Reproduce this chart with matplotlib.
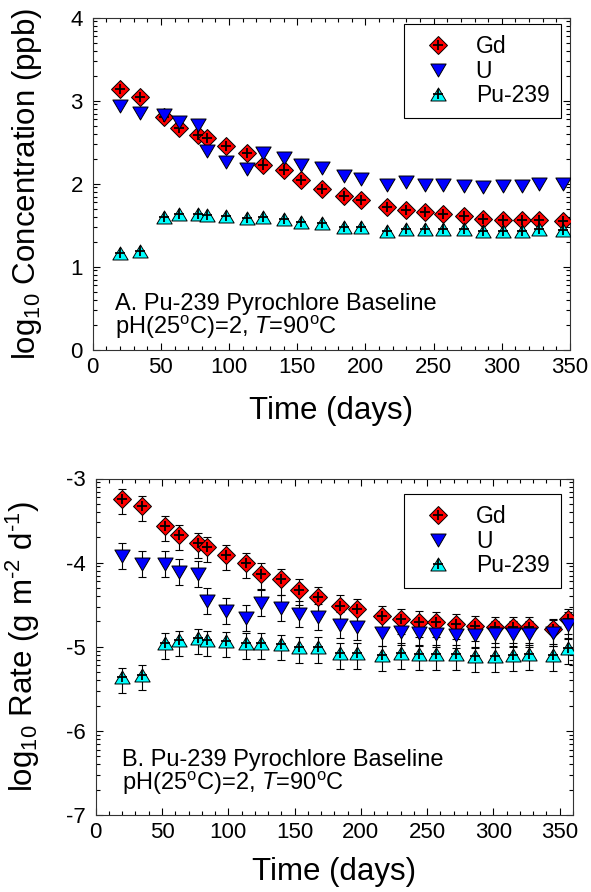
import math
import matplotlib
matplotlib.use('Agg')
import matplotlib.pyplot as plt
from matplotlib.path import Path
from matplotlib.lines import Line2D
from matplotlib.ticker import FixedLocator, MultipleLocator

plt.rcParams['font.family'] = ['Liberation Sans', 'DejaVu Sans']
plt.rcParams['mathtext.fontset'] = 'custom'
plt.rcParams['mathtext.rm'] = 'Liberation Sans'
plt.rcParams['mathtext.it'] = 'Liberation Sans:italic'
plt.rcParams['mathtext.bf'] = 'Liberation Sans:bold'
plt.rcParams['axes.unicode_minus'] = False

# ---------------- data ----------------
days = [20, 35, 52, 63, 77, 84, 98, 113, 125, 140, 153, 168, 184, 197, 216,
        230, 244, 257, 272, 286, 301, 315, 327, 345, 356]

# Panel A: log10 concentration (ppb)
conc_gd = [3.14, 3.05, 2.80, 2.67, 2.59, 2.55, 2.45, 2.37, 2.23, 2.17, 2.04, 1.94,
           1.85, 1.80, 1.72, 1.68, 1.66, 1.63, 1.61, 1.58, 1.56, 1.56, 1.56, 1.55]
conc_u = [2.94, 2.85, 2.83, 2.74, 2.71, 2.39, 2.26, 2.18, 2.37, 2.31, 2.23, 2.19,
          2.09, 2.06, 1.99, 2.02, 1.99, 1.98, 1.97, 1.96, 1.97, 1.97, 2.00, 2.00]
conc_pu = [1.17, 1.19, 1.60, 1.63, 1.64, 1.62, 1.61, 1.59, 1.60, 1.57, 1.54, 1.53,
           1.48, 1.48, 1.43, 1.46, 1.45, 1.45, 1.45, 1.43, 1.43, 1.43, 1.46, 1.44]

# Panel B: log10 rate (g m-2 d-1)
rate_gd = [-3.24, -3.33, -3.56, -3.67, -3.77, -3.81, -3.91, -4.00, -4.13, -4.20,
           -4.32, -4.41, -4.51, -4.55, -4.64, -4.67, -4.70, -4.71, -4.73, -4.75,
           -4.77, -4.77, -4.77, -4.79, -4.67]
rate_u = [-3.92, -4.02, -4.02, -4.11, -4.14, -4.46, -4.58, -4.66, -4.48, -4.54,
          -4.61, -4.65, -4.74, -4.77, -4.84, -4.82, -4.84, -4.85, -4.86, -4.86,
          -4.85, -4.85, -4.85, -4.84, -4.74]
rate_pu = [-5.36, -5.33, -4.95, -4.92, -4.90, -4.92, -4.93, -4.95, -4.95, -4.97,
           -5.00, -5.00, -5.07, -5.07, -5.10, -5.07, -5.09, -5.09, -5.09, -5.11,
           -5.11, -5.10, -5.09, -5.10, -5.02]

# error bars on rates (lower, upper), log units
err_gd = (0.18, 0.12)
err_u = (0.155, 0.155)
err_pu = (0.19, 0.11)

labels = ['Gd', 'U', 'Pu-239']

# ---------------- styling ----------------
W, H = 591, 892
fig = plt.figure(figsize=(W / 100, H / 100), dpi=100)
ax1 = fig.add_axes([92.7 / W, 1 - 349.7 / H, (570 - 92.7) / W, (349.7 - 17.7) / H])
ax2 = fig.add_axes([95.7 / W, 1 - 815 / H, (573 - 95.7) / W, (815 - 478.5) / H])

tri_down = Path([(-1, 0.85), (1, 0.85), (0, -0.85), (-1, 0.85)], closed=True)
tri_up = Path([(-1, -0.85), (1, -0.85), (0, 0.85), (-1, -0.85)], closed=True)

C_GD, C_U, C_PU = '#ff0000', '#0000ff', '#00ffff'
MS_D, MS_T, MS_P = 9, 11, 6.5
EW = 0.7


def series(ax, x, y, color, marker, ms, z, plus=True):
    ax.plot(x, y, ls='none', marker=marker, ms=ms, mfc=color, mec='black',
            mew=EW, zorder=z)
    if plus:
        ax.plot(x, y, ls='none', marker='+', ms=MS_P, color='black', mew=1.3,
                zorder=z + 0.1)


def style(ax, xmax, ymin, ymax):
    ax.set_xlim(0, xmax)
    ax.set_ylim(ymin, ymax)
    ax.xaxis.set_major_locator(MultipleLocator(50))
    ax.xaxis.set_minor_locator(MultipleLocator(10))
    ax.yaxis.set_major_locator(MultipleLocator(1))
    minors = []
    for n in range(int(ymin), int(ymax)):
        for k in range(2, 10):
            minors.append(n + math.log10(k))
    ax.yaxis.set_minor_locator(FixedLocator(minors))
    ax.tick_params(which='both', direction='in', top=True, right=True,
                   width=0.8, colors='black')
    ax.tick_params(which='major', length=5)
    ax.tick_params(which='minor', length=3)
    ax.tick_params(axis='both', labelsize=16)
    ax.tick_params(axis='x', pad=5)
    ax.tick_params(axis='y', pad=7)
    for s in ax.spines.values():
        s.set_linewidth(0.8)
        s.set_color('#333333')


def legend(ax, anchor):
    hs = [
        (Line2D([], [], ls='none', marker='D', ms=MS_D, mfc=C_GD, mec='black', mew=EW),
         Line2D([], [], ls='none', marker='+', ms=MS_P, color='black', mew=1.3)),
        Line2D([], [], ls='none', marker=tri_down, ms=MS_T, mfc=C_U, mec='black', mew=EW),
        (Line2D([], [], ls='none', marker=tri_up, ms=MS_T, mfc=C_PU, mec='black', mew=EW),
         Line2D([], [], ls='none', marker='+', ms=MS_P, color='black', mew=1.3)),
    ]
    leg = ax.legend(hs, labels, loc='upper right', bbox_to_anchor=anchor,
                    fontsize=16.5, frameon=True, fancybox=False, edgecolor='black',
                    framealpha=1, borderpad=0.5, labelspacing=0.05,
                    handlelength=2.0, handletextpad=0.65, borderaxespad=0)
    leg.get_frame().set_linewidth(0.8)
    leg.set_zorder(10)


# ---------------- panel A ----------------
n = len(conc_gd)
series(ax1, days[:n], conc_gd, C_GD, 'D', MS_D, 3)
series(ax1, days[:n], conc_u, C_U, tri_down, MS_T, 4, plus=False)
series(ax1, days[:n], conc_pu, C_PU, tri_up, MS_T, 5)
style(ax1, 350, 0, 4)
ax1.set_xlabel('Time (days)', fontsize=22.5)
ax1.set_ylabel(r'log$_{\mathrm{10}}$ Concentration (ppb)', fontsize=22.5)
ax1.xaxis.set_label_coords(0.5, -0.14)
ax1.yaxis.set_label_coords(-0.101, 0.5)
legend(ax1, (0.981, 0.981))
ax1.text(0.046, 0.12, 'A. Pu-239 Pyrochlore Baseline', transform=ax1.transAxes,
         fontsize=17, va='baseline')
ax1.text(0.046, 0.048, r'pH(25$^{\mathrm{o}}$C)=2, $T$=90$^{\mathrm{o}}$C',
         transform=ax1.transAxes, fontsize=17, va='baseline')

# ---------------- panel B ----------------
for vals, err, z in [(rate_gd, err_gd, 2.0), (rate_u, err_u, 2.1), (rate_pu, err_pu, 2.2)]:
    ax2.errorbar(days, vals, yerr=[[err[0]] * len(vals), [err[1]] * len(vals)],
                 fmt='none', ecolor='black', elinewidth=0.8, capsize=3,
                 capthick=0.8, zorder=z)
series(ax2, days, rate_gd, C_GD, 'D', MS_D, 3)
series(ax2, days, rate_u, C_U, tri_down, MS_T, 4, plus=False)
series(ax2, days, rate_pu, C_PU, tri_up, MS_T, 5)
style(ax2, 360, -7, -3)
ax2.set_xlabel('Time (days)', fontsize=22.5)
ax2.set_ylabel(r'log$_{\mathrm{10}}$ Rate (g m$^{\mathrm{\text{-}2}}$ d$^{\mathrm{\text{-}1}}$)',
               fontsize=22.5)
ax2.xaxis.set_label_coords(0.5, -0.125)
ax2.yaxis.set_label_coords(-0.1125, 0.5)
legend(ax2, (0.975, 0.954))
ax2.text(0.0545, 0.1465, 'B. Pu-239 Pyrochlore Baseline', transform=ax2.transAxes,
         fontsize=17, va='baseline')
ax2.text(0.0545, 0.0743, r'pH(25$^{\mathrm{o}}$C)=2, $T$=90$^{\mathrm{o}}$C',
         transform=ax2.transAxes, fontsize=17, va='baseline')

fig.savefig('out.png', dpi=100)
